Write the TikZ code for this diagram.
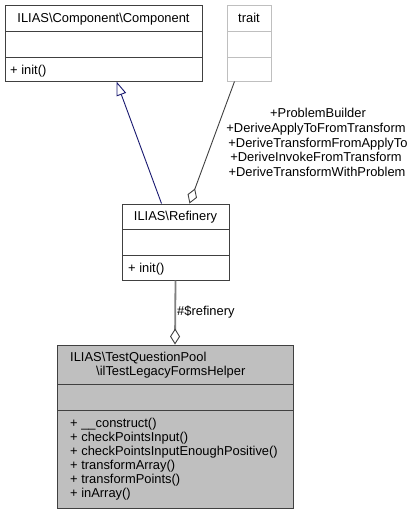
\documentclass[tikz,border=0pt]{standalone}
\usepackage{fontspec}
\setmainfont{Liberation Sans}
\usetikzlibrary{arrows.meta}
\definecolor{navyedge}{HTML}{191970}
\definecolor{lightborder}{HTML}{BFBFBF}
\definecolor{maingrey}{HTML}{BFBFBF}
\tikzset{
  classbox/.style={draw=black!75, line width=1pt, rectangle, inner sep=0pt, fill=white},
  traitbox/.style={draw=lightborder, line width=1pt, rectangle, inner sep=0pt, fill=white},
  mainbox/.style={draw=black!75, line width=1pt, rectangle, inner sep=0pt, fill=maingrey},
  txt/.style={inner sep=0pt, font=\fontsize{12.9}{14}\selectfont},
  ltxt/.style={txt, anchor=base west},
  ctxt/.style={txt, anchor=base},
  divider/.style={draw=black!75, line width=1pt},
  genedge/.style={draw=navyedge, line width=0.9pt, -{Triangle[open, length=14pt, width=10pt, line width=0.9pt]}},
  aggedge/.style={draw=black!75, line width=0.9pt, -{Diamond[open, length=16pt, width=10pt, line width=0.9pt]}},
  aggedge2/.style={draw=black!50, line width=1.8pt, -{Diamond[open, length=16pt, width=10pt, line width=0.9pt, color=black!75]}}
}
\begin{document}
\begin{tikzpicture}[x=1pt,y=-1pt]
\useasboundingbox (0,0) rectangle (415,515);
% Component
\node[classbox, minimum width=197pt, minimum height=76pt] (comp) at (103.5,43) {};
\draw[divider] (5,31) -- (202,31);
\draw[divider] (5,57) -- (202,57);
\node[ctxt] (compt) at (103.5,22.5) {ILIAS\textbackslash Component\textbackslash Component};
\node[ltxt] (compm) at (10,74.5) {+ init()};
% trait
\node[traitbox, minimum width=44pt, minimum height=76pt] (trait) at (249,43) {};
\draw[draw=lightborder, line width=1pt] (227,31) -- (271,31);
\draw[draw=lightborder, line width=1pt] (227,57) -- (271,57);
\node[ctxt] (traitt) at (249,22.5) {trait};
% Refinery
\node[classbox, minimum width=107pt, minimum height=76pt] (ref) at (175.5,242) {};
\draw[divider] (122,229) -- (229,229);
\draw[divider] (122,255) -- (229,255);
\node[ctxt] (reft) at (175.5,220.5) {ILIAS\textbackslash Refinery};
\node[ltxt] (refm) at (128,272) {+ init()};
% Main
\node[mainbox, minimum width=236pt, minimum height=163pt] (main) at (175,426.5) {};
\draw[divider] (57,384) -- (293,384);
\draw[divider] (57,410) -- (293,410);
\node[ltxt] (maint1) at (70,361.5) {ILIAS\textbackslash TestQuestionPool};
\node[ltxt] (maint2) at (96,375.5) {\textbackslash ilTestLegacyFormsHelper};
\node[ltxt] (mm1) at (70,427) {+ \_\_construct()};
\node[ltxt] (mm2) at (70,441) {+ checkPointsInput()};
\node[ltxt] (mm3) at (70,455) {+ checkPointsInputEnoughPositive()};
\node[ltxt] (mm4) at (70,469) {+ transformArray()};
\node[ltxt] (mm5) at (70,483) {+ transformPoints()};
\node[ltxt] (mm6) at (70,497) {+ inArray()};
% edges
\draw[genedge] ([xshift=40pt]ref.north west) -- ([xshift=112pt]comp.south west);
\draw[aggedge] ([xshift=8pt]trait.south west) -- ([xshift=68pt]ref.north west);
\draw[aggedge2] (ref.south) -- (main.north);
% labels
\node[ctxt] (l1) at (318,117) {+ProblemBuilder};
\node[ctxt] (l2) at (316,132) {+DeriveApplyToFromTransform};
\node[ctxt] (l3) at (318,147) {+DeriveTransformFromApplyTo};
\node[ctxt] (l4) at (316,161) {+DeriveInvokeFromTransform};
\node[ctxt] (l5) at (317,176) {+DeriveTransformWithProblem};
\node[ltxt] (rl) at (177,315) {\#\$refinery};
\end{tikzpicture}
\end{document}
